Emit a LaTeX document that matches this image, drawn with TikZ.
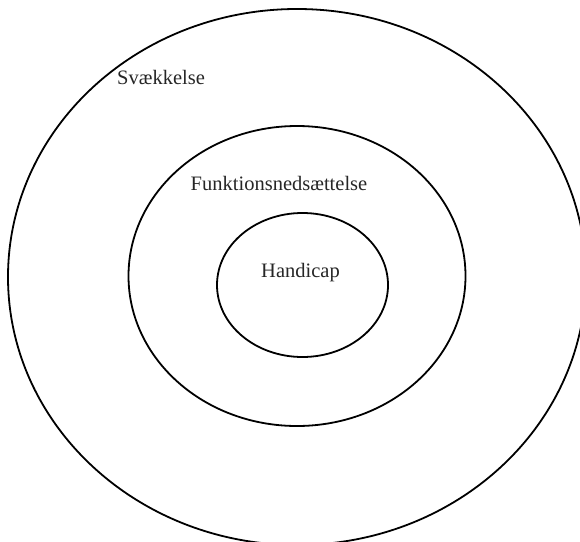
\documentclass[tikz,border=0pt]{standalone}
\usepackage{fontspec}
\setmainfont{Liberation Serif}
\usetikzlibrary{shapes.geometric}
\begin{document}
\begin{tikzpicture}[x=1pt,y=-1pt,
  ring/.style={ellipse,draw=black,line width=1.8pt,inner sep=0pt},
  lbl/.style={font=\fontsize{20.5}{24}\selectfont,text=black!85,inner sep=0pt}]
\useasboundingbox (0,0) rectangle (580,541);
\clip (0,0) rectangle (580,541);
\node[ring,minimum width=578pt,minimum height=536pt] (outer) at (297,277) {};
\node[ring,minimum width=337pt,minimum height=300pt] (middle) at (297,276) {};
\node[ring,minimum width=171pt,minimum height=144pt] (inner) at (302.5,285) {};
\node[lbl,anchor=west] (t1) at (117,77) {Svækkelse};
\node[lbl] (t2) at (279,183) {Funktionsnedsættelse};
\node[lbl] (t3) at (300.5,273) {Handicap};
\end{tikzpicture}
\end{document}
